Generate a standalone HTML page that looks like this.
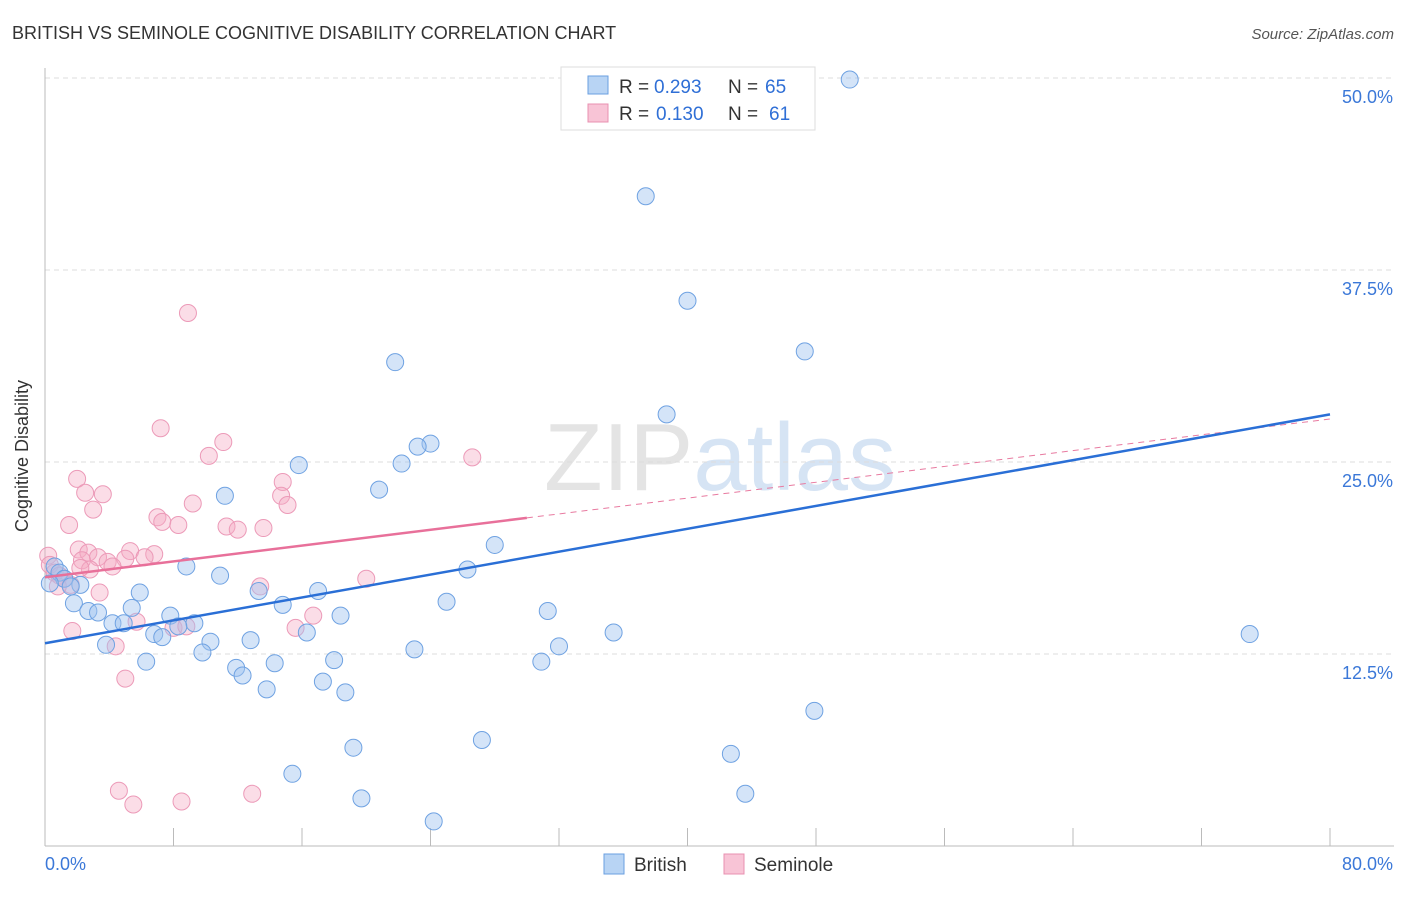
<!DOCTYPE html>
<html><head><meta charset="utf-8"><style>
body{margin:0;background:#fff;font-family:"Liberation Sans",sans-serif}
svg text{font-family:"Liberation Sans",sans-serif}
</style></head><body>
<svg id="c" width="1406" height="892">
<text x="12" y="39" font-size="18" fill="#333">BRITISH VS SEMINOLE COGNITIVE DISABILITY CORRELATION CHART</text>
<text x="1394" y="39" font-size="15" fill="#555" font-style="italic" text-anchor="end">Source: ZipAtlas.com</text>
<text x="720" y="490" font-size="96" fill="#e4e4e4" text-anchor="middle" font-family="Liberation Serif">ZIP<tspan fill="#d6e4f4" font-family="Liberation Sans">atlas</tspan></text>
<g id="grid"></g><g id="marks"></g>
<text x="28" y="456" font-size="18" fill="#333" text-anchor="middle" transform="rotate(-90 28 456)">Cognitive Disability</text>
<g>
<rect x="561" y="67" width="254" height="63" fill="#fff" stroke="#ddd"/>
<rect x="588" y="76" width="20" height="18" fill="#b8d4f4" stroke="#6a9fe0"/>
<rect x="588" y="104" width="20" height="18" fill="#f8c4d6" stroke="#e890b0"/>
<text x="619" y="93" font-size="19" fill="#333">R =</text>
<text x="654" y="93" font-size="19" fill="#2f6fd6">0.293</text>
<text x="728" y="93" font-size="19" fill="#333">N =</text>
<text x="765" y="93" font-size="19" fill="#2f6fd6">65</text>
<text x="619" y="120" font-size="19" fill="#333">R =</text>
<text x="656" y="120" font-size="19" fill="#2f6fd6">0.130</text>
<text x="728" y="120" font-size="19" fill="#333">N =</text>
<text x="769" y="120" font-size="19" fill="#2f6fd6">61</text>
</g>
<g>
<rect x="604" y="854" width="20" height="20" fill="#b8d4f4" stroke="#6a9fe0"/>
<text x="634" y="871" font-size="19" fill="#333">British</text>
<rect x="724" y="854" width="20" height="20" fill="#f8c4d6" stroke="#e890b0"/>
<text x="754" y="871" font-size="19" fill="#333">Seminole</text>
</g>
</svg>
<script>
const yTicks=[12.5,25,37.5,50];
const yTickLabels=["12.5%","25.0%","37.5%","50.0%"];
const xTicks=[0,8,16,24,32,40,48,56,64,72,80];
const britishX=[50.1,37.4,40.0,47.3,21.8,38.7,24.0,23.2,22.2,15.8,20.8,11.2,28.0,26.3,8.8,10.9,5.9,13.3,17.0,1.8,2.7,3.3,5.4,14.8,18.4,7.8,25.0,31.3,4.2,4.9,9.3,8.3,6.8,7.3,16.3,35.4,75.0,10.3,12.8,3.8,23.0,32.0,9.8,6.3,14.3,18.0,30.9,11.9,12.3,17.3,13.8,18.7,47.9,27.2,19.2,42.7,15.4,43.6,19.7,24.2,0.6,0.9,1.2,0.3,2.2,1.6];
const britishY=[49.9,42.3,35.5,32.2,31.5,28.1,26.2,26.0,24.9,24.8,23.2,22.8,19.6,18.0,18.2,17.6,16.5,16.6,16.6,15.8,15.3,15.2,15.5,15.7,15.0,15.0,15.9,15.3,14.5,14.5,14.5,14.3,13.8,13.6,13.9,13.9,13.8,13.3,13.4,13.1,12.8,13.0,12.6,12.0,11.9,12.1,12.0,11.6,11.1,10.7,10.2,10.0,8.8,6.9,6.4,6.0,4.7,3.4,3.1,1.6,18.2,17.8,17.4,17.1,17.0,16.9];
const seminoleX=[8.9,7.2,11.1,10.2,26.6,2.0,2.5,3.6,3.0,9.2,14.8,14.7,15.1,7.0,7.3,8.3,1.5,11.3,12.0,13.6,0.2,2.1,2.7,3.3,5.3,6.8,5.0,3.9,2.3,4.2,6.2,2.8,2.2,0.3,0.6,0.9,1.2,1.6,0.8,3.4,13.4,20.0,5.7,8.0,8.8,15.6,16.7,1.7,4.4,5.0,4.6,5.5,8.5,12.9];
const seminoleY=[34.7,27.2,26.3,25.4,25.3,23.9,23.0,22.9,21.9,22.3,23.7,22.8,22.2,21.4,21.1,20.9,20.9,20.8,20.6,20.7,18.9,19.3,19.1,18.8,19.2,19.0,18.7,18.5,18.6,18.2,18.8,18.0,18.1,18.3,17.8,17.6,17.4,17.0,16.9,16.5,16.9,17.4,14.6,14.2,14.3,14.2,15.0,14.0,13.0,10.9,3.6,2.7,2.9,3.4];
const NS='http://www.w3.org/2000/svg';
const X0=45,X1=1330,Y0=846,Y50=78;
const sx=v=>X0+(v/80)*(X1-X0);
const sy=v=>Y0-(v/50)*(Y0-Y50);
function mk(t,a,p){const e=document.createElementNS(NS,t);for(const k in a)e.setAttribute(k,a[k]);p.appendChild(e);return e;}
const g=document.getElementById('grid'),m=document.getElementById('marks');
yTicks.forEach((t,i)=>{
const l=mk('line',{x1:X0,x2:1394,y1:sy(t),y2:sy(t),stroke:'#ddd','stroke-dasharray':'5,4'},g);


const tx=mk('text',{x:1393,y:sy(t)+25,'font-size':18,fill:'#3b78d8','text-anchor':'end'},g);
tx.textContent=yTickLabels[i];


});
const ax=mk('line',{x1:X0,x2:1394,y1:Y0,y2:Y0,stroke:'#bbb'},g);


const ay=mk('line',{x1:X0,x2:X0,y1:68,y2:Y0,stroke:'#bbb'},g);


xTicks.forEach(t=>{const l=mk('line',{x1:sx(t),x2:sx(t),y1:828,y2:Y0,stroke:'#bbb'},g);

});
const xl=mk('text',{x:45,y:870,'font-size':18,fill:'#3b78d8'},g);xl.textContent='0.0%';


const xr=mk('text',{x:1393,y:870,'font-size':18,fill:'#3b78d8','text-anchor':'end'},g);xr.textContent='80.0%';


seminoleX.forEach((v,i)=>{const c=mk('circle',{cx:sx(v),cy:sy(seminoleY[i]),r:8.5,fill:'rgba(244,170,196,0.4)',stroke:'#ec9ab8','stroke-width':1},m);

});
britishX.forEach((v,i)=>{const c=mk('circle',{cx:sx(v),cy:sy(britishY[i]),r:8.5,fill:'rgba(160,196,240,0.45)',stroke:'#6fa2e2','stroke-width':1},m);

});
const semTrend=[17.5,27.8],briTrend=[13.2,28.1];
const sAt=x=>semTrend[0]+(semTrend[1]-semTrend[0])*x/80;
const pd=mk('line',{x1:sx(30),y1:sy(sAt(30)),x2:sx(80),y2:sy(sAt(80)),stroke:'#e87aa0','stroke-width':1,'stroke-dasharray':'6,5'},m);


const ps=mk('line',{x1:sx(0),y1:sy(sAt(0)),x2:sx(30),y2:sy(sAt(30)),stroke:'#e8709a','stroke-width':2.5},m);


const bl=mk('line',{x1:sx(0),y1:sy(briTrend[0]),x2:sx(80),y2:sy(briTrend[1]),stroke:'#2a6fd6','stroke-width':2.5},m);


</script>
</body></html>
